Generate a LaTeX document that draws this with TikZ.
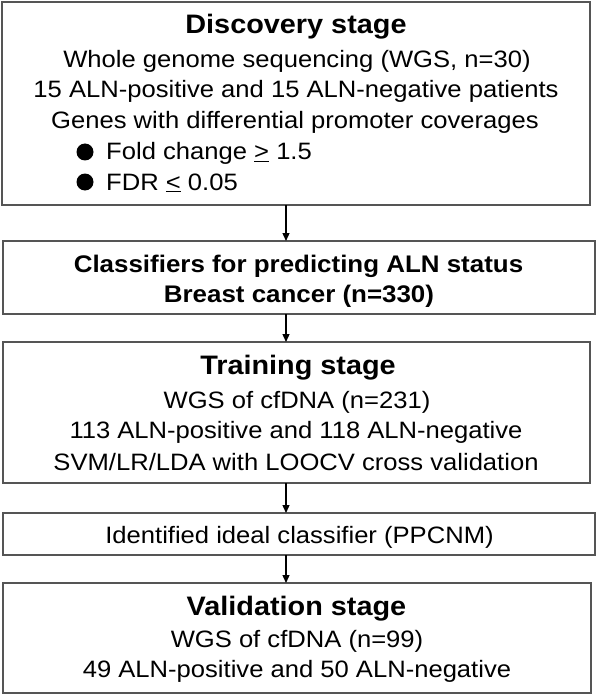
\documentclass[tikz,border=0pt]{standalone}
\usepackage{fontspec}
\setmainfont{Liberation Sans}[FakeStretch=1.08]
\usetikzlibrary{arrows.meta}
\definecolor{boxgray}{RGB}{85,85,85}
\tikzset{
  box/.style={draw=boxgray, line width=1.8pt, inner sep=0pt, outer sep=0pt, fill=white},
  txt/.style={anchor=base, inner sep=0pt, font=\fontsize{23.7}{28}\selectfont},
  ttl/.style={anchor=base, inner sep=0pt, font=\bfseries\fontsize{26.7}{30}\selectfont},
  btxt/.style={anchor=base, inner sep=0pt, font=\bfseries\fontsize{24}{28}\selectfont},
  ltxt/.style={anchor=base west, inner sep=0pt, font=\fontsize{23.7}{28}\selectfont},
  dot/.style={circle, fill=black, inner sep=0pt, minimum size=17pt},
  arr/.style={-{Triangle[length=8pt,width=7pt]}, line width=1.3pt, black}
}
\begin{document}
\begin{tikzpicture}[x=1pt,y=-1pt]
\useasboundingbox (0,0) rectangle (597,695);
% boxes
\node[box, minimum width=588pt, minimum height=203pt] (disc) at (296,103.5) {};
\node[box, minimum width=592pt, minimum height=73pt] (cls) at (299,277.5) {};
\node[box, minimum width=587pt, minimum height=141pt] (train) at (296.5,412.5) {};
\node[box, minimum width=592pt, minimum height=42pt] (ident) at (299,534) {};
\node[box, minimum width=588pt, minimum height=110pt] (valid) at (297,638) {};
% discovery text
\node[ttl] (t1) at (296,34) {Discovery stage};
\node[txt] (l1a) at (297,68) {Whole genome sequencing (WGS, n=30)};
\node[txt] (l1b) at (296,98) {15 ALN-positive and 15 ALN-negative patients};
\node[txt] (l1c) at (295,129) {Genes with differential promoter coverages};
\node[dot] (b1) at (85,152) {};
\node[ltxt] (l1d) at (106,160) {Fold change \underline{>} 1.5};
\node[dot] (b2) at (85,182) {};
\node[ltxt] (l1e) at (106,190) {FDR \underline{<} 0.05};
% classifiers text
\node[btxt] (l2a) at (298.5,272) {Classifiers for predicting ALN status};
\node[btxt] (l2b) at (299,302) {Breast cancer (n=330)};
% training text
\node[ttl] (t3) at (298,374) {Training stage};
\node[txt] (l3a) at (297,408) {WGS of cfDNA (n=231)};
\node[txt] (l3b) at (296,438) {113 ALN-positive and 118 ALN-negative};
\node[txt] (l3c) at (296,470) {SVM/LR/LDA with LOOCV cross validation};
% identified text
\node[txt] (l4a) at (299.5,543) {Identified ideal classifier (PPCNM)};
% validation text
\node[ttl] (t5) at (296.5,615) {Validation stage};
\node[txt] (l5a) at (297,647) {WGS of cfDNA (n=99)};
\node[txt] (l5b) at (297,677) {49 ALN-positive and 50 ALN-negative};
% arrows
\coordinate (ax) at (286,0);
\draw[arr] (disc.south -| ax) -- (cls.north -| ax);
\draw[arr] (cls.south -| ax) -- (train.north -| ax);
\draw[arr] (train.south -| ax) -- (ident.north -| ax);
\draw[arr] (ident.south -| ax) -- (valid.north -| ax);
\end{tikzpicture}
\end{document}
